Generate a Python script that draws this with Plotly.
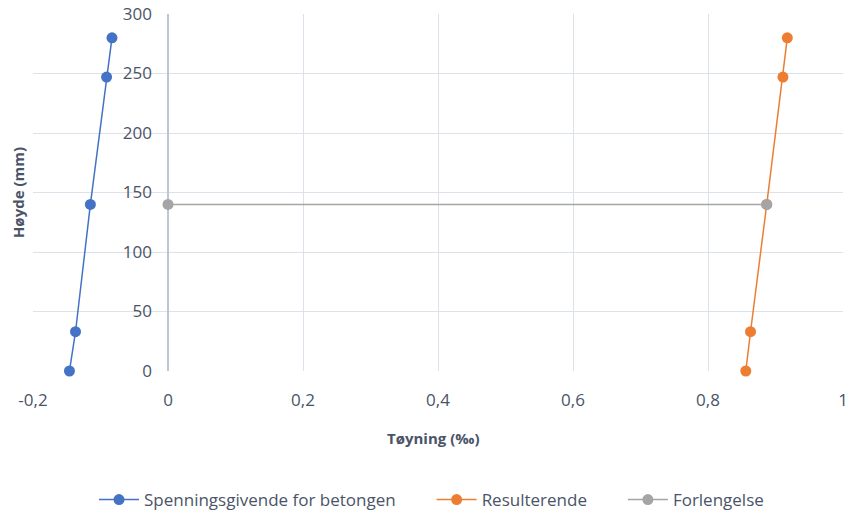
import plotly.graph_objects as go

# Strain distribution over the section height
hoyde = [0, 33, 140, 247, 280]                      # mm
spenningsgivende = [-0.146, -0.137, -0.115, -0.091, -0.083]   # ‰
resulterende = [0.856, 0.863, 0.887, 0.911, 0.9175]           # ‰
forlengelse_x = [0, 0.887]
forlengelse_y = [140, 140]

x_ticks = [-0.2, 0, 0.2, 0.4, 0.6, 0.8, 1]
x_ticktext = ["-0,2", "0", "0,2", "0,4", "0,6", "0,8", "1"]
y_ticks = [0, 50, 100, 150, 200, 250, 300]

BLUE = "#4472C4"
ORANGE = "#ED7D31"
GRAY = "#A5A5A5"
TEXT = "#4a5468"
GRID = "#dde2ea"
FONT = "Open Sans, Liberation Sans, Arial, sans-serif"
PAD = "\u00a0" * 7  # extra space between legend entries

fig = go.Figure()
series = [
    (spenningsgivende, hoyde, "Spenningsgivende for betongen" + PAD, BLUE),
    (resulterende, hoyde, "Resulterende" + PAD, ORANGE),
    (forlengelse_x, forlengelse_y, "Forlengelse", GRAY),
]
for xs, ys, name, color in series:
    fig.add_trace(go.Scatter(x=xs, y=ys, mode="lines+markers", name=name,
                             cliponaxis=False,
                             line=dict(color=color, width=1.5),
                             marker=dict(color=color, size=11)))

x0, x1 = -0.2, 1.0
fig.update_layout(
    width=848, height=515,
    margin=dict(l=33, r=5, t=14, b=144, autoexpand=False),
    paper_bgcolor="white", plot_bgcolor="white",
    font=dict(family=FONT, size=17, color=TEXT),
    showlegend=True,
    legend=dict(orientation="h", xanchor="center", x=0.492,
                yref="container", yanchor="middle", y=0.029,
                font=dict(size=17, color=TEXT), itemwidth=40, tracegroupgap=0),
    xaxis=dict(range=[x0, x1], tickvals=x_ticks, ticktext=x_ticktext,
               showgrid=True, gridcolor=GRID, gridwidth=1,
               zeroline=True, zerolinecolor="#bcc6d5", zerolinewidth=1.5,
               showline=False, ticks="", ticklabelstandoff=17,
               tickfont=dict(size=17, color=TEXT)),
    yaxis=dict(range=[0, 300], tickvals=y_ticks,
               showgrid=True, gridcolor=GRID, gridwidth=1,
               zeroline=False, showline=False, ticks="",
               anchor="free", position=(0 - x0) / (x1 - x0),
               ticklabelstandoff=16,
               tickfont=dict(size=17, color=TEXT)),
    annotations=[
        dict(text="<b>Tøyning (‰)</b>", xref="paper", yref="paper",
             x=0.494, y=-0.188, xanchor="center", yanchor="middle",
             showarrow=False, font=dict(size=15, color=TEXT)),
        dict(text="<b>Høyde (mm)</b>", xref="paper", yref="paper",
             x=-0.019, y=0.5, xanchor="center", yanchor="middle", textangle=-90,
             showarrow=False, font=dict(size=15, color=TEXT)),
    ],
)

fig.write_html("out.html")
